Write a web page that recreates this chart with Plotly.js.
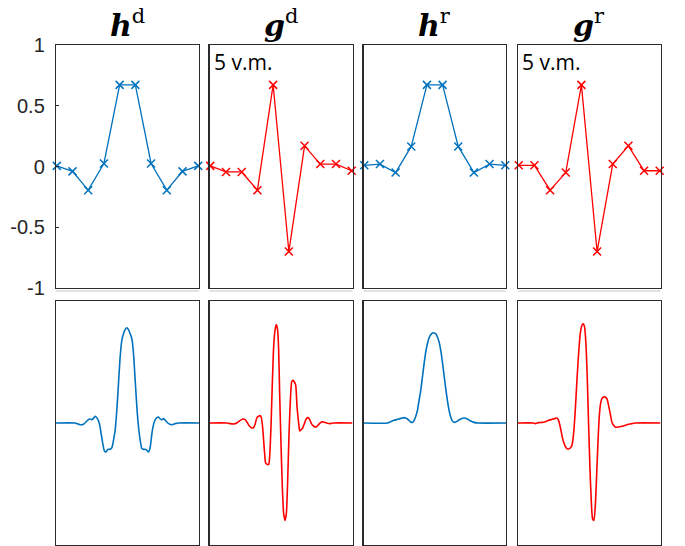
<!DOCTYPE html>
<html>
<head>
<meta charset="utf-8">
<script src="https://cdn.plot.ly/plotly-3.0.1.min.js"></script>
<style>html,body{margin:0;padding:0;background:#fff;}#plot{width:685px;height:546px;}</style>
</head>
<body>
<div id="plot"></div>
<script>
// ---- filter coefficients (top row) ----
const taps = [1,2,3,4,5,6,7,8,9,10];
const hd = [0.005,-0.04,-0.195,0.025,0.672,0.672,0.025,-0.195,-0.04,0.005];
const gd = [0.005,-0.045,-0.045,-0.195,0.672,-0.70,0.17,0.02,0.02,-0.035];
const hr = [0.01,0.02,-0.05,0.165,0.672,0.672,0.165,-0.05,0.02,0.01];
const gr = [0.01,0.01,-0.195,-0.05,0.672,-0.70,0.02,0.17,-0.035,-0.035];

// ---- functions (bottom row) ----
const tHd = [8,65,70,80,90,100,108,115,122,125,130,138,143,148,153,158,163,170,176,180,185,190,195,200,205,210,215,220,225,230,235,240,245,250,255,260,265,270,275,280,285,290,295,300,305,310,315,320,325,330,337,345,355,365,375,436];
const vHd = [0,0,-0.005,-0.014,-0.011,0.016,0.033,0.027,0.044,0.055,0.044,-0.005,-0.087,-0.169,-0.230,-0.238,-0.216,-0.216,-0.197,-0.142,-0.060,0.104,0.322,0.541,0.678,0.732,0.765,0.781,0.765,0.732,0.691,0.568,0.350,0.131,-0.033,-0.142,-0.210,-0.216,-0.216,-0.224,-0.238,-0.197,-0.087,-0.011,0.027,0.044,0.049,0.033,0.027,0.036,0.016,-0.005,-0.014,-0.005,0,0];

const tGd = [8,60,70,80,90,100,108,115,120,128,135,140,145,150,155,160,163,167,170,173,176,180,185,188,192,196,200,204,208,212,215,218,222,226,230,234,238,242,246,250,254,258,262,266,270,275,278,282,287,292,298,303,308,313,320,327,335,343,350,358,370,380,436];
const vGd = [0,0,-0.005,-0.008,0,0.022,0.033,0.027,0.008,-0.027,-0.041,-0.038,-0.005,0.044,0.055,0.060,0.044,-0.033,-0.142,-0.251,-0.328,-0.339,-0.339,-0.279,-0.033,0.322,0.623,0.760,0.806,0.760,0.596,0.240,-0.169,-0.525,-0.743,-0.798,-0.743,-0.470,-0.087,0.186,0.336,0.350,0.336,0.309,0.131,-0.005,-0.066,-0.055,-0.041,-0.005,0.036,0.044,0.027,-0.005,-0.027,-0.033,-0.011,0.008,0.008,0,-0.005,0,0];

const tHr = [8,80,90,100,110,120,130,140,150,155,160,165,170,175,180,185,190,195,200,205,210,215,220,225,230,235,240,245,250,255,260,265,270,275,283,290,300,310,320,330,340,350,436];
const vHr = [0,0,0.011,0.022,0.030,0.038,0.044,0.033,0.008,0.005,0.022,0.055,0.104,0.186,0.268,0.377,0.486,0.582,0.650,0.699,0.724,0.738,0.738,0.732,0.705,0.664,0.596,0.500,0.391,0.281,0.186,0.104,0.049,0.016,0.005,0.016,0.033,0.041,0.033,0.016,0.005,0,0];

const tGr = [8,55,60,70,80,90,100,110,120,125,130,135,140,145,150,155,160,165,170,175,180,185,190,195,200,204,208,212,216,220,224,228,232,236,240,244,248,252,256,260,265,270,275,280,285,290,295,300,310,320,330,340,350,360,436];
const vGr = [0,0,-0.005,0.003,0.005,0.011,0.022,0.030,0.038,0.041,0.022,-0.033,-0.101,-0.156,-0.191,-0.210,-0.213,-0.205,-0.183,-0.087,0.104,0.350,0.568,0.732,0.801,0.814,0.787,0.650,0.377,-0.005,-0.361,-0.634,-0.784,-0.798,-0.689,-0.443,-0.169,0.049,0.158,0.199,0.213,0.213,0.199,0.145,0.077,0.008,-0.019,-0.033,-0.033,-0.027,-0.019,-0.011,-0.005,0,0];

const titles = ['<b><i>h</i></b><sup>d</sup>','<b><i>g</i></b><sup>d</sup>','<b><i>h</i></b><sup>r</sup>','<b><i>g</i></b><sup>r</sup>'];
const note = '5 v.m.';
const yTicks = [-1,-0.5,0,0.5,1];
const yTickText = ['-1','-0.5','0','0.5','1'];

const BLUE = '#0072BD', RED = '#FF0000';
const W = 685, H = 546;
const colPx = [[56,199],[209.5,352.5],[363.5,506],[518,660.5]];
const topPx = [45,288], botPx = [301,545];
const xd = p => [p[0]/W, p[1]/W];
const yd = p => [(H-p[1])/H, (H-p[0])/H];

const topData = [hd, gd, hr, gr];
const botT = [tHd, tGd, tHr, tGr];
const botV = [vHd, vGd, vHr, vGr];
const colors = [BLUE, RED, BLUE, RED];

const traces = [];
const layout = {
  width: W, height: H,
  margin: {l:0, r:0, t:0, b:0},
  paper_bgcolor: '#fff', plot_bgcolor: '#fff',
  showlegend: false,
  annotations: [], shapes: []
};
const frame = {showline:true, mirror:true, linecolor:'#2b2b2b', linewidth:1.2, showgrid:false, zeroline:false, automargin:false, fixedrange:true};

for (let i=0;i<4;i++){
  const a = 2*i+1, b = 2*i+2;
  const xa = 'x'+(a===1?'':a), ya = 'y'+(a===1?'':a);
  const xb = 'x'+b, yb = 'y'+b;
  traces.push({x: taps, y: topData[i], xaxis: xa, yaxis: ya, type:'scatter', mode:'lines+markers',
    line:{color:colors[i], width:1.3}, marker:{symbol:'x-thin', size:8, line:{color:colors[i], width:1.5}}, cliponaxis:false});
  traces.push({x: botT[i], y: botV[i], xaxis: xb, yaxis: yb, type:'scatter', mode:'lines',
    line:{color:colors[i], width:1.6, shape:'spline', smoothing:0.6}});
  layout['xaxis'+(a===1?'':a)] = Object.assign({}, frame, {domain: xd(colPx[i]), range:[0.95,10.05], showticklabels:false, ticks:'', anchor: ya});
  layout['yaxis'+(a===1?'':a)] = Object.assign({}, frame, {domain: yd(topPx), range:[-1,1], anchor: xa,
    showticklabels: i===0, tickvals: yTicks, ticktext: yTickText, ticks: i===0?'inside':'', ticklen:3, tickcolor:'#262626',
    ticklabelstandoff: 6, tickfont:{family:'Liberation Sans, Arial, sans-serif', size:20, color:'#262626'}});
  layout['xaxis'+b] = Object.assign({}, frame, {domain: xd(colPx[i]), range:[8,436], showticklabels:false, ticks:'', anchor: yb});
  layout['yaxis'+b] = Object.assign({}, frame, {domain: yd(botPx), range:[-1,1], showticklabels:false, ticks:'', anchor: xb});
  layout.annotations.push({text: titles[i], xref:'paper', yref:'paper', x:(colPx[i][0]+colPx[i][1])/2/W, y:1-24/H,
    xanchor:'center', yanchor:'middle', showarrow:false, font:{family:'DejaVu Serif, serif', size:30, color:'#000'}});
  if (i===1 || i===3){
    layout.annotations.push({text: note, xref:'paper', yref:'paper', x:(colPx[i][0]+2)/W, y:1-62/H,
      xanchor:'left', yanchor:'middle', showarrow:false, font:{family:'Open Sans, sans-serif', size:21, color:'#000'}});
  }
  layout.shapes.push({type:'line', xref:'paper', yref:'paper', x0:colPx[i][0]/W, x1:colPx[i][1]/W, y0:1-291/H, y1:1-291/H, line:{color:'#e2e2e2', width:2}});
}

Plotly.newPlot('plot', traces, layout, {staticPlot:true, displayModeBar:false});
</script>
</body>
</html>
